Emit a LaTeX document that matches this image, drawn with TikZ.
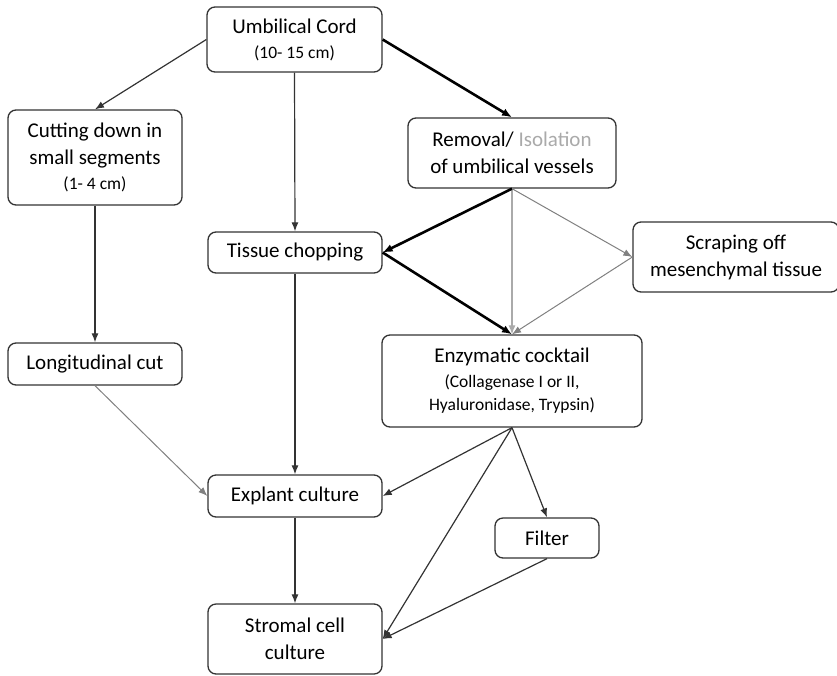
\documentclass[tikz,border=0pt]{standalone}
\usepackage{fontspec}
\setmainfont{Carlito}
\usetikzlibrary{arrows.meta}
\definecolor{edge}{HTML}{333333}
\definecolor{lightg}{HTML}{AAAAAA}
\definecolor{midg}{HTML}{808080}
\tikzset{
  box/.style={draw=edge, line width=1.3pt, rounded corners=8pt, align=center, inner sep=0pt, fill=white, font=\fontsize{21}{27}\selectfont},
  sm/.style={},
  arr/.style={draw=edge, line width=1.2pt, -{Latex[length=9pt,width=7pt]}},
  thickarr/.style={draw=black, line width=2.6pt, -{Latex[length=10pt,width=8pt]}},
  lightarr/.style={draw=lightg, line width=1.2pt, -{Latex[length=9pt,width=7pt]}},
  grayarr/.style={draw=midg, line width=1pt, -{Latex[length=9pt,width=7pt]}}
}
\newcommand{\smalltxt}[1]{{\fontsize{17.5}{24}\selectfont #1}}
\begin{document}
\begin{tikzpicture}[x=1pt,y=-1pt]
\useasboundingbox (0,0) rectangle (837,675);
\node[box, minimum width=175pt, minimum height=65pt] (umb) at (294.5,39.5) {Umbilical Cord\\[-2pt]\smalltxt{(10- 15 cm)}};
\node[box, minimum width=208pt, minimum height=70pt] (rem) at (512,153) {Removal/ \textcolor{lightg}{Isolation}\\of umbilical vessels};
\node[box, minimum width=174pt, minimum height=95pt] (cut) at (95,157.5) {Cutting down in\\small segments\\[-2pt]\smalltxt{(1- 4 cm)}};
\node[box, minimum width=174pt, minimum height=41pt] (tis) at (295,252.5) {Tissue chopping};
\node[box, minimum width=206pt, minimum height=70pt] (scr) at (736,257) {Scraping off\\mesenchymal tissue};
\node[box, minimum width=260pt, minimum height=92pt] (enz) at (512,381) {Enzymatic cocktail\\[-2pt]\smalltxt{(Collagenase I or II,}\\[-4pt]\smalltxt{Hyaluronidase, Trypsin)}};
\node[box, minimum width=174pt, minimum height=42pt] (lon) at (95,364) {Longitudinal cut};
\node[box, minimum width=174pt, minimum height=42pt] (exp) at (295,496) {Explant culture};
\node[box, minimum width=104pt, minimum height=40pt] (fil) at (547,538) {Filter};
\node[box, minimum width=174pt, minimum height=70pt] (str) at (295,639) {Stromal cell\\culture};
% connectors
\draw[arr] (umb.west) -- (cut.north);
\draw[arr] (umb.south) -- (tis.north);
\draw[thickarr] (umb.east) -- (rem.north);
\draw[lightarr] (rem.south) -- (enz.north);
\draw[thickarr] (rem.south) -- (tis.east);
\draw[grayarr] (rem.south) -- (scr.west);
\draw[thickarr] (tis.east) -- (enz.north);
\draw[grayarr] (scr.west) -- (enz.north);
\draw[arr] (cut.south) -- (lon.north);
\draw[grayarr] (lon.south) -- (exp.west);
\draw[arr] (tis.south) -- (exp.north);
\draw[arr] (enz.south) -- (exp.east);
\draw[arr] (enz.south) -- (str.east);
\draw[arr] (enz.south) -- (fil.north);
\draw[arr] (fil.south) -- (str.east);
\draw[arr] (exp.south) -- (str.north);
\end{tikzpicture}
\end{document}
